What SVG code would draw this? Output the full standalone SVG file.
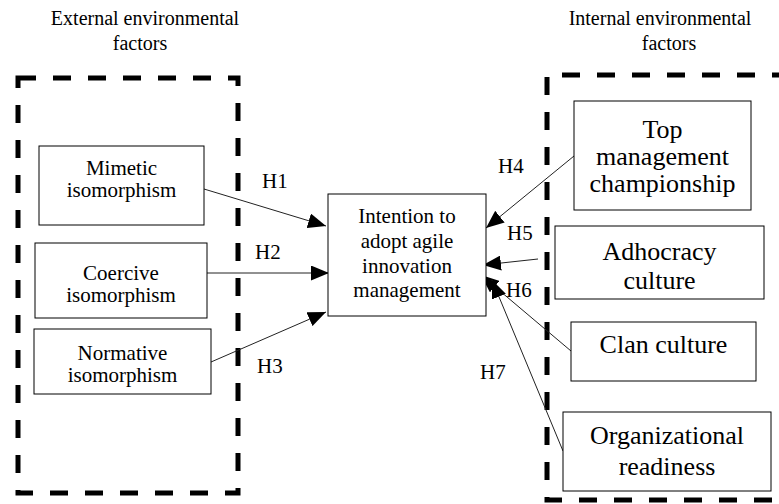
<svg xmlns="http://www.w3.org/2000/svg" width="779" height="504" viewBox="0 0 779 504" font-family="'Liberation Serif', 'Times New Roman', Times, serif">
<defs>
<style>
text{font-family:'Liberation Serif','Times New Roman',Times,serif;fill:#000}
.t{text-anchor:middle}
.s{font-size:21px}
.b{font-size:26px}
.h{font-size:21px}
.ti{font-size:20px}
.box{fill:#fff;stroke:#000;stroke-width:1}
.dash{fill:none;stroke:#000;stroke-width:5;stroke-dasharray:18 17}
.c{stroke:#222;stroke-width:1;fill:none;marker-end:url(#ah)}
</style>
<marker id="ah" markerUnits="userSpaceOnUse" markerWidth="19" markerHeight="15" refX="18" refY="7.5" orient="auto">
<path d="M0,0 L18,7.5 L0,15 z" fill="#000"/>
</marker>
</defs>
<rect width="779" height="504" fill="#fff"/>
<g id="titles">
<text class="t ti" x="145" y="25">External environmental</text>
<text class="t ti" x="140" y="50">factors</text>
<text class="t ti" x="660" y="25">Internal environmental</text>
<text class="t ti" x="669" y="50">factors</text>
</g>
<g id="external-group"><rect class="dash" x="18" y="78" width="220" height="415"/></g>
<g id="internal-group"><path class="dash" d="M790,75 L547,75 L547,500 L790,500"/></g>
<g id="connectors">
<line class="c" x1="204" y1="189" x2="326" y2="226"/>
<line class="c" x1="207" y1="273" x2="329" y2="273"/>
<line class="c" x1="211" y1="362" x2="326" y2="312"/>
<line class="c" x1="574" y1="156" x2="486" y2="228"/>
<line class="c" x1="538" y1="259" x2="483" y2="265"/>
<line class="c" x1="571" y1="351" x2="481" y2="275"/>
<line class="c" x1="563" y1="451" x2="492" y2="280"/>
<text class="h" x="262" y="188">H1</text>
<text class="h" x="255" y="259">H2</text>
<text class="h" x="257" y="373">H3</text>
<text class="h" x="498" y="173">H4</text>
<text class="h" x="507" y="240">H5</text>
<text class="h" x="506" y="297">H6</text>
<text class="h" x="480" y="379">H7</text>
</g>
<g id="mimetic"><rect class="box" x="39" y="146" width="165" height="79"/>
<text class="t s" x="121.5" y="175">Mimetic</text><text class="t s" x="121.5" y="197">isomorphism</text></g>
<g id="coercive"><rect class="box" x="35" y="243" width="172" height="75"/>
<text class="t s" x="121" y="280">Coercive</text><text class="t s" x="121" y="302">isomorphism</text></g>
<g id="normative"><rect class="box" x="34" y="329" width="177" height="65"/>
<text class="t s" x="122.5" y="360">Normative</text><text class="t s" x="122.5" y="382">isomorphism</text></g>
<g id="intention"><rect class="box" x="328" y="194" width="158" height="122"/>
<text class="t s" x="407" y="223">Intention to</text><text class="t s" x="407" y="248">adopt agile</text><text class="t s" x="407" y="273">innovation</text><text class="t s" x="407" y="297">management</text></g>
<g id="top-management"><rect class="box" x="574" y="101" width="177" height="109"/>
<text class="t b" x="662.5" y="138">Top</text><text class="t b" x="662.5" y="165">management</text><text class="t b" x="662.5" y="192">championship</text></g>
<g id="adhocracy"><rect class="box" x="555" y="226" width="209" height="73"/>
<text class="t b" x="659.5" y="260">Adhocracy</text><text class="t b" x="659.5" y="289">culture</text></g>
<g id="clan"><rect class="box" x="571" y="322" width="185" height="59"/>
<text class="t b" x="663.5" y="353">Clan culture</text></g>
<g id="readiness"><rect class="box" x="563" y="412" width="208" height="79"/>
<text class="t b" x="667" y="444">Organizational</text><text class="t b" x="667" y="475">readiness</text></g>
</svg>
